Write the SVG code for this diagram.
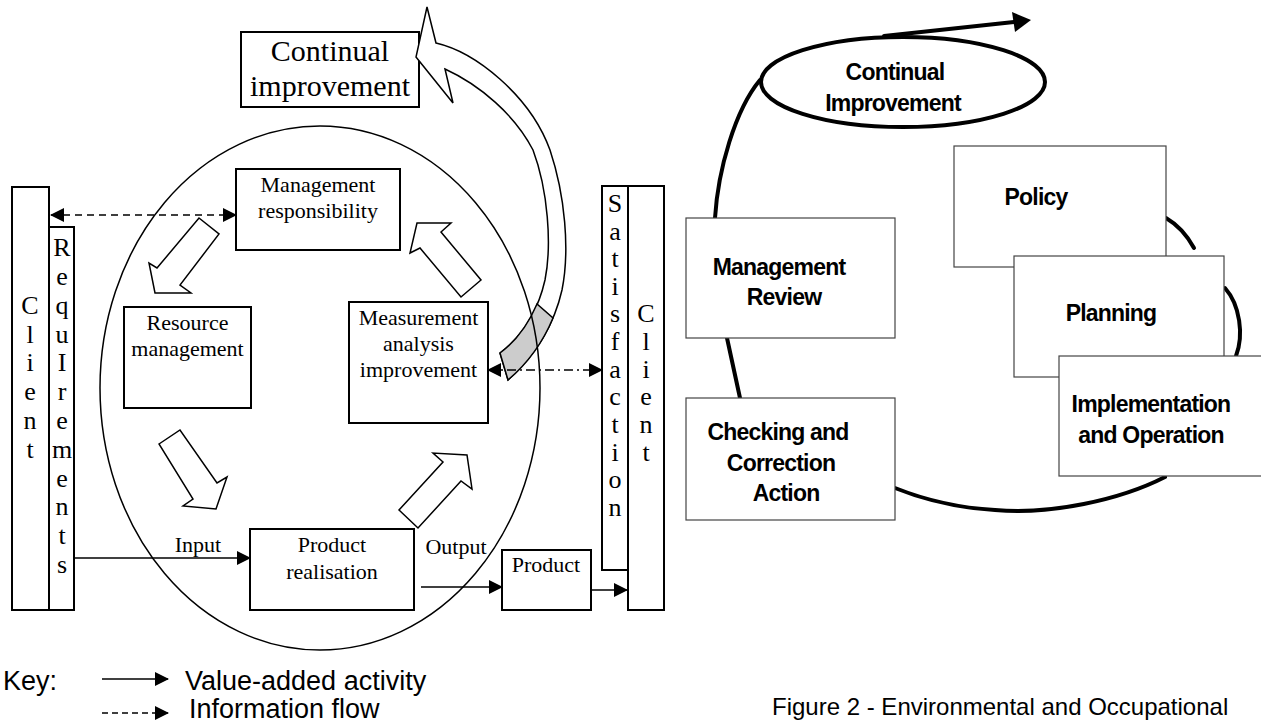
<svg xmlns="http://www.w3.org/2000/svg" width="1261" height="723" viewBox="0 0 1261 723">
<style>
.box{fill:#fff;stroke:#000;stroke-width:2}
.col{fill:#fff;stroke:#000;stroke-width:2}
.t{font-family:"Liberation Serif","Times New Roman",serif;font-size:22px;fill:#000;text-anchor:middle}
.tb{font-family:"Liberation Serif","Times New Roman",serif;font-size:30px;fill:#000;text-anchor:middle}
.v{font-family:"Liberation Serif","Times New Roman",serif;font-size:26px;fill:#000;text-anchor:middle}
.blk{fill:#fff;stroke:#000;stroke-width:1.5;stroke-linejoin:miter}
.ln{fill:none;stroke:#000;stroke-width:1.5}
.rb{fill:#fff;stroke:#444;stroke-width:1.2}
.rt{font-family:"Liberation Sans",Arial,sans-serif;font-size:23px;font-weight:bold;fill:#000;text-anchor:middle;letter-spacing:-0.8px}
.thick{fill:none;stroke:#000;stroke-width:4;stroke-linecap:round}
.key{font-family:"Liberation Sans",Arial,sans-serif;font-size:27px;fill:#000}
.cap{font-family:"Liberation Sans",Arial,sans-serif;font-size:24px;fill:#000}
</style>
<defs>
<marker id="ahs" markerWidth="14" markerHeight="14" refX="13" refY="7" orient="auto-start-reverse" markerUnits="userSpaceOnUse" viewBox="0 0 14 14">
<path d="M0,0 L14,7 L0,14 Z" fill="#000"/>
</marker>
</defs>

<g id="continual-improvement-box">
<rect class="box" x="241" y="32" width="178" height="75"/>
<text class="tb" x="330" y="61">Continual</text>
<text class="tb" x="330" y="96">improvement</text>
</g>

<g id="curved-arrow">
<path d="M427,7 L416,57 L453,103 L445,69 C480,85 515,115 533,150 C548,190 552,245 545,280 C537,315 520,338 500,353 L508,380 C530,360 553,330 562,290 C570,250 565,195 550,150 C530,95 475,52 436,43 Z" fill="#fff" stroke="#000" stroke-width="1.5"/>
<path d="M553,318 C543,342 527,364 508,380 L500,353 C515,342 528,325 537,304 Z" fill="#ccc" stroke="#000" stroke-width="1.5"/>
</g>

<g id="process-ellipse">
<ellipse cx="320" cy="388" rx="220" ry="262" fill="none" stroke="#000" stroke-width="1.5"/>
</g>

<g id="client-left">
<rect class="col" x="12" y="187" width="37" height="423"/>
<text class="v"><tspan x="30" y="314">C</tspan><tspan x="30" y="343">l</tspan><tspan x="30" y="371">i</tspan><tspan x="30" y="400">e</tspan><tspan x="30" y="429">n</tspan><tspan x="30" y="458">t</tspan></text>
</g>

<g id="requirements">
<rect class="col" x="49" y="227" width="25" height="383"/>
<text class="v"><tspan x="62" y="256">R</tspan><tspan x="62" y="285">e</tspan><tspan x="62" y="314">q</tspan><tspan x="62" y="343">u</tspan><tspan x="62" y="371">I</tspan><tspan x="62" y="400">r</tspan><tspan x="62" y="429">e</tspan><tspan x="62" y="458">m</tspan><tspan x="62" y="487">e</tspan><tspan x="62" y="515">n</tspan><tspan x="62" y="544">t</tspan><tspan x="62" y="573">s</tspan></text>
</g>

<g id="satisfaction">
<rect class="col" x="602" y="186" width="26" height="384"/>
<text class="v"><tspan x="615" y="212">S</tspan><tspan x="615" y="240">a</tspan><tspan x="615" y="267">t</tspan><tspan x="615" y="295">i</tspan><tspan x="615" y="322">s</tspan><tspan x="615" y="350">f</tspan><tspan x="615" y="378">a</tspan><tspan x="615" y="405">c</tspan><tspan x="615" y="433">t</tspan><tspan x="615" y="461">i</tspan><tspan x="615" y="488">o</tspan><tspan x="615" y="516">n</tspan></text>
</g>

<g id="client-right">
<rect class="col" x="628" y="186" width="36" height="424"/>
<text class="v"><tspan x="646" y="322">C</tspan><tspan x="646" y="350">l</tspan><tspan x="646" y="378">i</tspan><tspan x="646" y="405">e</tspan><tspan x="646" y="433">n</tspan><tspan x="646" y="461">t</tspan></text>
</g>

<g id="management-responsibility">
<rect class="box" x="236" y="169" width="164" height="81"/>
<text class="t" x="318" y="192">Management</text>
<text class="t" x="318" y="218">responsibility</text>
</g>

<g id="resource-management">
<rect class="box" x="124" y="307" width="127" height="101"/>
<text class="t" x="187.5" y="330">Resource</text>
<text class="t" x="187.5" y="356">management</text>
</g>

<g id="measurement">
<rect class="box" x="349" y="302" width="139" height="121"/>
<text class="t" x="418.5" y="325">Measurement</text>
<text class="t" x="418.5" y="351">analysis</text>
<text class="t" x="418.5" y="377">improvement</text>
</g>

<g id="product-realisation">
<rect class="box" x="250" y="529" width="164" height="81"/>
<text class="t" x="332" y="552">Product</text>
<text class="t" x="332" y="579">realisation</text>
</g>

<g id="product">
<rect class="box" x="502" y="550" width="89" height="60"/>
<text class="t" x="546" y="572">Product</text>
</g>

<g id="block-arrows">
<polygon class="blk" points="199,218 219,234 180,285 191,293 155,293 149,263 157,268"/>
<polygon class="blk" points="159,444 180,430 217,483 227,477 216,509 183,506 193,499"/>
<polygon class="blk" points="399,510 418,528 461,481 472,489 467,455 433,453 443,462"/>
<polygon class="blk" points="461,297 481,280 441,232 451,223 417,223 410,253 420,248"/>
</g>

<g id="connectors">
<line class="ln" x1="51" y1="215" x2="236" y2="215" stroke-dasharray="7,5" marker-start="url(#ahs)" marker-end="url(#ahs)"/>
<line class="ln" x1="488" y1="370" x2="602" y2="370" stroke-dasharray="9,4,2,4" marker-start="url(#ahs)" marker-end="url(#ahs)"/>
<line class="ln" x1="75" y1="558" x2="250" y2="558" marker-end="url(#ahs)"/>
<line class="ln" x1="421" y1="587" x2="502" y2="587" marker-end="url(#ahs)"/>
<line class="ln" x1="591" y1="590" x2="627" y2="590" marker-end="url(#ahs)"/>
<text class="t" x="198" y="552">Input</text>
<text class="t" x="456" y="554">Output</text>
</g>

<g id="key">
<text class="key" x="3" y="690">Key:</text>
<line class="ln" x1="102" y1="679" x2="168" y2="679" marker-end="url(#ahs)"/>
<text class="key" x="185" y="690">Value-added activity</text>
<line class="ln" x1="102" y1="713" x2="168" y2="713" stroke-dasharray="6,4" marker-end="url(#ahs)"/>
<text class="key" x="189" y="718">Information flow</text>
</g>

<g id="right-connectors">
<path class="thick" d="M715,218 C718,170 735,110 760,80"/>
<path class="thick" d="M884,36 L1014,22"/>
<polygon points="1031,20 1012,12 1015,32" fill="#000"/>
<path class="thick" d="M1166,218 C1178,225 1188,237 1194,248"/>
<path class="thick" d="M1225,288 C1240,305 1244,335 1236,356"/>
<path class="thick" d="M1165,477 C1120,500 1050,515 995,510 C960,508 930,502 895,488"/>
<path class="thick" d="M727,338 L740,398"/>
</g>

<g id="continual-improvement-ellipse">
<ellipse cx="903" cy="82" rx="142" ry="45" fill="none" stroke="#000" stroke-width="4"/>
<text class="rt" x="895" y="80">Continual</text>
<text class="rt" x="893" y="111">Improvement</text>
</g>

<g id="policy">
<rect class="rb" x="954" y="146" width="212" height="121"/>
<text class="rt" x="1036" y="205">Policy</text>
</g>
<g id="planning">
<rect class="rb" x="1014" y="256" width="210" height="121"/>
<text class="rt" x="1111" y="321">Planning</text>
</g>
<g id="implementation">
<rect class="rb" x="1059" y="356" width="210" height="120"/>
<text class="rt" x="1151" y="412">Implementation</text>
<text class="rt" x="1151" y="443">and Operation</text>
</g>
<g id="management-review">
<rect class="rb" x="686" y="218" width="209" height="120"/>
<text class="rt" x="779" y="275">Management</text>
<text class="rt" x="784" y="305">Review</text>
</g>
<g id="checking">
<rect class="rb" x="686" y="398" width="209" height="122"/>
<text class="rt" x="778" y="440">Checking and</text>
<text class="rt" x="781" y="471">Correction</text>
<text class="rt" x="786" y="501">Action</text>
</g>

<g id="caption">
<text class="cap" x="772" y="715">Figure 2 - Environmental and Occupational</text>
</g>
</svg>
